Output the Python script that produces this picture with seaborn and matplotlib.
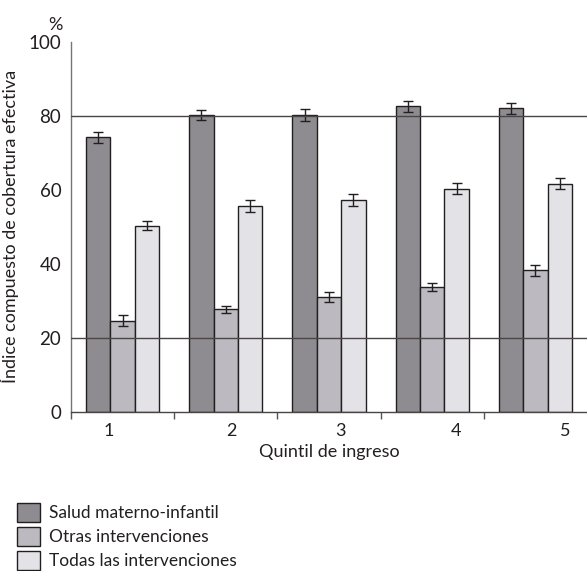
import numpy as np
import pandas as pd
import matplotlib
matplotlib.use("Agg")
import matplotlib.pyplot as plt
import seaborn as sns

# Coverage index by income quintile
quintiles = ["1", "2", "3", "4", "5"]
series = ["Salud materno-infantil", "Otras intervenciones", "Todas las intervenciones"]
salud_materno = [74.2, 80.1, 80.2, 82.5, 82.0]
otras = [24.6, 27.7, 31.0, 33.7, 38.2]
todas = [50.3, 55.6, 57.2, 60.3, 61.6]
err_salud = [1.5, 1.35, 1.5, 1.5, 1.5]
err_otras = [1.4, 1.0, 1.3, 1.1, 1.45]
err_todas = [1.3, 1.5, 1.6, 1.5, 1.5]
y_ticks = [0, 20, 40, 60, 80, 100]
ref_lines = [20, 80]

colors = ["#8f8c91", "#bcbac0", "#e3e3e7"]
ink = "#231f20"

sns.set_theme(style="white")
plt.rcParams["font.family"] = ["Lato", "DejaVu Sans"]

df = pd.DataFrame({
    "quintil": quintiles * 3,
    "serie": np.repeat(series, len(quintiles)),
    "valor": salud_materno + otras + todas,
    "err": err_salud + err_otras + err_todas,
})

fig = plt.figure(figsize=(5.87, 5.71), dpi=100)
ax = fig.add_axes([71 / 587, 1 - 411.7 / 571, 1 - 71 / 587, (411.7 - 41.7) / 571])

sns.barplot(data=df, x="quintil", y="valor", hue="serie", order=quintiles,
            hue_order=series, palette=colors, width=0.71, errorbar=None,
            edgecolor=ink, linewidth=1.0, saturation=1, ax=ax, zorder=2)

# error bars placed on the bar centres computed by seaborn (hue-major order)
bars = [p for p in ax.patches if p.get_height() > 0]
xs = np.array([p.get_x() + p.get_width() / 2 for p in bars])
ys = np.array([p.get_height() for p in bars])
es = np.array(err_salud + err_otras + err_todas)[:len(xs)]
ax.errorbar(xs, ys, yerr=es, fmt="none", ecolor=ink, elinewidth=1.0,
            capsize=3.8, capthick=1.0, zorder=4)

for v in ref_lines:
    ax.axhline(v, color="#4a4444", lw=1.0, zorder=5)

ax.set_ylim(0, 100)
ax.set_xlim(-0.5, 4.5)
ax.set_yticks(y_ticks)
ax.set_yticklabels([str(t) for t in y_ticks], fontsize=13.5, color=ink)
ax.tick_params(axis="y", length=0, pad=7)

# quintile labels and group separators
label_pos = [-0.13, 1.055, 2.11, 3.23, 4.29]
ax.set_xticks(label_pos)
ax.set_xticklabels(quintiles, fontsize=13, color=ink)
ax.tick_params(axis="x", which="major", length=0, pad=8)
ax.set_xticks([-0.5, 0.5, 1.5, 2.5, 3.5], minor=True)
ax.tick_params(axis="x", which="minor", length=5, width=1.0, color="#5a5555",
               direction="out", bottom=True)

for side in ["top", "right"]:
    ax.spines[side].set_visible(False)
ax.spines["left"].set_color("#7a7575")
ax.spines["bottom"].set_color("#4a4444")
for side in ["left", "bottom"]:
    ax.spines[side].set_linewidth(1.0)
ax.grid(False)

ax.set_xlabel("Quintil de ingreso", fontsize=13, color=ink, labelpad=4)
ax.set_ylabel("Índice compuesto de cobertura efectiva", fontsize=13, color=ink, labelpad=7)
fig.text(63 / 587, 1 - 25 / 571, "%", ha="right", va="center", fontsize=13, color=ink)

handles, labels = ax.get_legend_handles_labels()
if ax.get_legend() is not None:
    ax.get_legend().remove()
fig.legend(handles, labels, loc="upper left", bbox_to_anchor=(10 / 587, 1 - 496 / 571),
           frameon=False, fontsize=12.5, handlelength=1.35, handleheight=1.35,
           labelspacing=0.25, handletextpad=0.5, borderaxespad=0, labelcolor=ink)

fig.savefig("out.png", dpi=100)
